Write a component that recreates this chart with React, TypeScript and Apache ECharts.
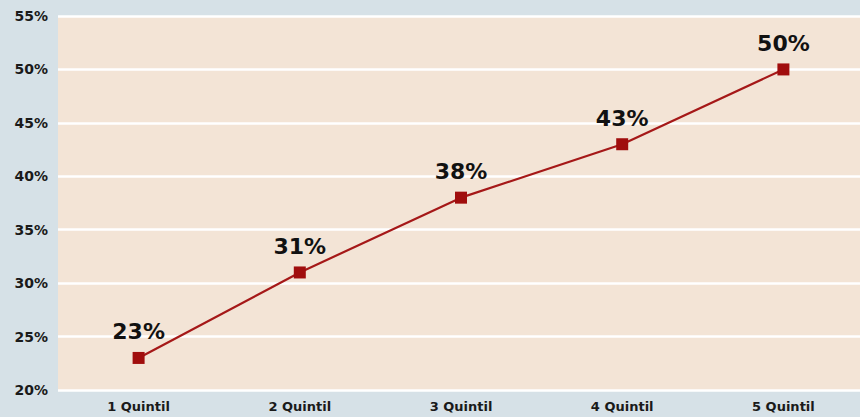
import React, { useEffect, useRef } from "react";
import * as echarts from "echarts";

const categories = ["1 Quintil", "2 Quintil", "3 Quintil", "4 Quintil", "5 Quintil"];
const values = [23, 31, 38, 43, 50];
const yMin = 20;
const yMax = 55;
const yStep = 5;

export default function App() {
  const ref = useRef<HTMLDivElement>(null);
  useEffect(() => {
    const chart = echarts.init(ref.current!, null, { renderer: "svg" });
    chart.setOption({
      animation: false,
      backgroundColor: "#d6e1e7",
      grid: {
        left: 58,
        top: 16,
        right: 6,
        bottom: 27,
        show: true,
        backgroundColor: "#f3e4d6",
        borderWidth: 0,
      },
      xAxis: {
        type: "category",
        data: categories,
        boundaryGap: true,
        axisLine: { show: false },
        axisTick: { show: false },
        axisLabel: {
          color: "#1a1a1a",
          fontFamily: "DejaVu Sans",
          fontWeight: "bold",
          fontSize: 13,
          margin: 10,
        },
      },
      yAxis: {
        type: "value",
        min: yMin,
        max: yMax,
        interval: yStep,
        axisLine: { show: false },
        axisTick: { show: false },
        splitLine: { lineStyle: { color: "#ffffff", width: 2.5 } },
        axisLabel: {
          formatter: (v: number) => v + "%",
          color: "#1a1a1a",
          fontFamily: "DejaVu Sans",
          fontWeight: "bold",
          fontSize: 14,
          margin: 10,
        },
      },
      series: [
        {
          type: "line",
          data: values,
          symbol: "rect",
          symbolSize: 12,
          lineStyle: { color: "#a51818", width: 2.2 },
          itemStyle: { color: "#a00d0d" },
          label: {
            show: true,
            position: "top",
            distance: 9,
            formatter: (p: any) => p.value + "%",
            color: "#111",
            fontFamily: "DejaVu Sans",
            fontWeight: "bold",
            fontSize: 22,
          },
        },
      ],
    });
    return () => chart.dispose();
  }, []);
  return (
    <div
      style={{
        position: "absolute",
        left: 0,
        top: 0,
        width: 860,
        height: 417,
        overflow: "hidden",
      }}
    >
      <div ref={ref} style={{ width: 870, height: 417 }} />
    </div>
  );
}
